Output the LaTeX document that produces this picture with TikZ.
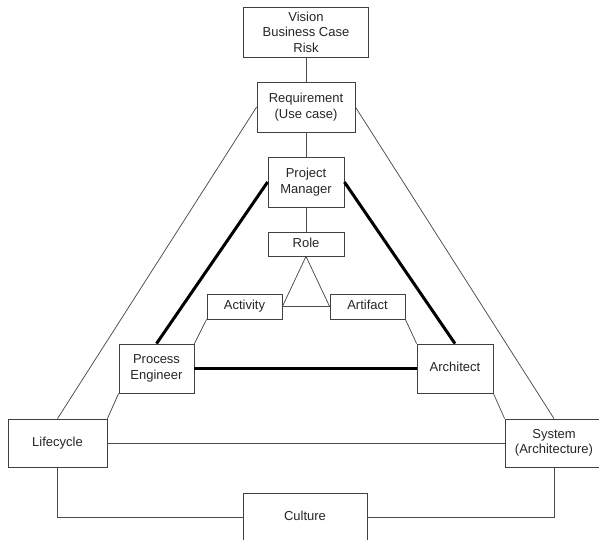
\documentclass[tikz,border=0pt]{standalone}
\usepackage{fontspec}
\setmainfont{Liberation Sans}
\begin{document}
\begin{tikzpicture}[x=1pt,y=-1pt,
  box/.style={draw=black!75,line width=0.8pt,fill=white,rectangle,inner sep=0pt,align=center,
    font=\fontsize{13}{15.5}\selectfont,text=black!85},
  oneline/.style={text height=9.5pt,text depth=2.8pt},
  thin/.style={draw=black!70,line width=0.75pt},
  thick/.style={draw=black,line width=3pt}]
\useasboundingbox (0,0) rectangle (599,539);
\clip (0,0) rectangle (599,539);
\fill[white] (0,0) rectangle (599,539);
% nodes
\node[box,minimum width=125,minimum height=50] (vision) at (306,32) {Vision\\Business Case\\Risk};
\node[box,minimum width=98,minimum height=50] (req) at (306,107) {Requirement\\(Use case)};
\node[box,minimum width=76,minimum height=50] (pm) at (306,182) {Project\\Manager};
\node[box,oneline,minimum width=76,minimum height=24] (role) at (306,244) {Role};
\node[box,oneline,minimum width=75,minimum height=25] (act) at (244.5,306.5) {Activity};
\node[box,oneline,minimum width=75,minimum height=25] (art) at (367.5,306.5) {Artifact};
\node[box,minimum width=75,minimum height=49] (pe) at (156.5,368.5) {Process\\Engineer};
\node[box,oneline,minimum width=76,minimum height=49] (arch) at (455,368.5) {Architect};
\node[box,oneline,minimum width=99,minimum height=48] (life) at (57.5,443) {Lifecycle};
\node[box,minimum width=98,minimum height=48] (sys) at (554,443) {System\\(Architecture)};
\node[box,oneline,minimum width=124,minimum height=48] (cult) at (305,517) {Culture};
% connectors
\draw[thin] (vision.south) -- (req.north);
\draw[thin] (req.south) -- (pm.north);
\draw[thin] (pm.south) -- (role.north);
\draw[thin] (role.south) -- (act.east) -- (art.west) -- cycle;
\draw[thin] (act.south west) -- (pe.north east);
\draw[thin] (art.south east) -- (arch.north west);
\draw[thin] (req.west) -- (life.north);
\draw[thin] (req.east) -- (sys.north);
\draw[thin] (pe.south west) -- (life.north east);
\draw[thin] (arch.south east) -- (sys.north west);
\draw[thin] (life.east) -- (sys.west);
\draw[thin] (life.south) |- (cult.west);
\draw[thin] (sys.south) |- (cult.east);
\draw[thick] (pm.west) -- (pe.north);
\draw[thick] (pm.east) -- (arch.north);
\draw[thick] (pe.east) -- (arch.west);
\end{tikzpicture}
\end{document}
